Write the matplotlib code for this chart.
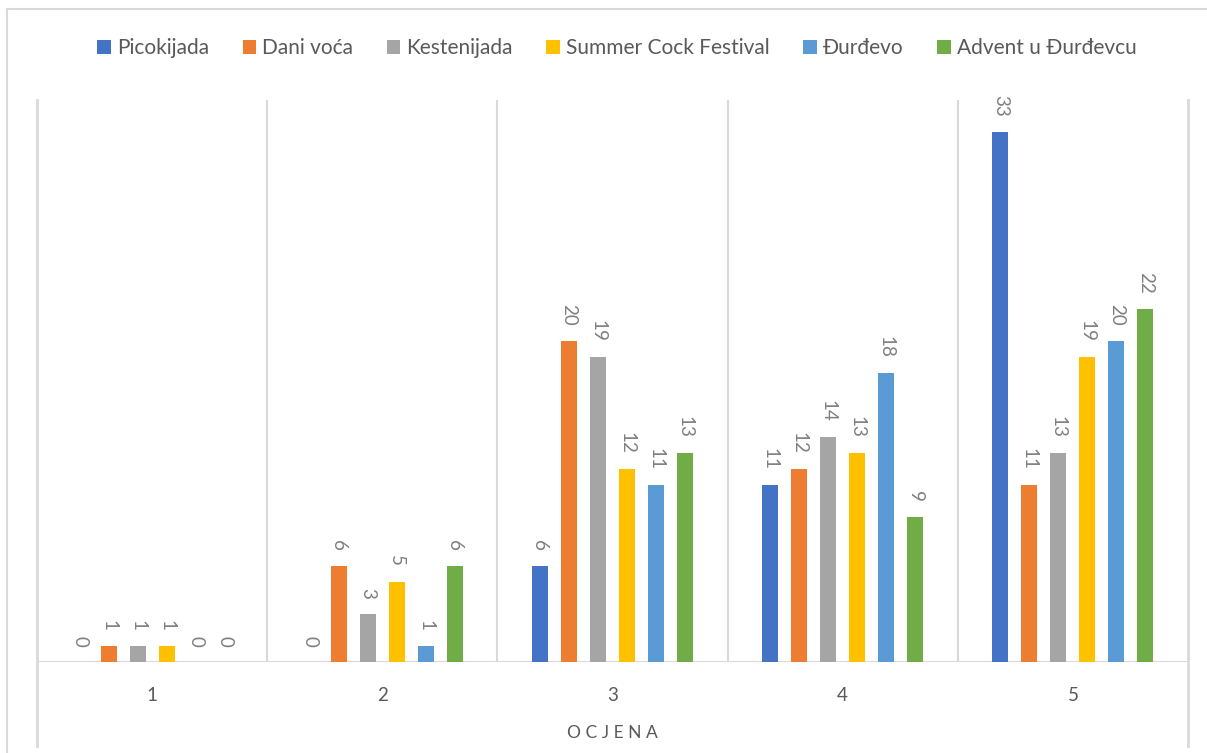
import numpy as np
import matplotlib
matplotlib.use("Agg")
from matplotlib import pyplot as plt
from matplotlib.lines import Line2D

plt.rcParams['font.family'] = ['Lato', 'DejaVu Sans']

categories = ['1', '2', '3', '4', '5']
series_names = ['Picokijada', 'Dani voća', 'Kestenijada', 'Summer Cock Festival',
                'Đurđevo', 'Advent u Đurđevcu']
picokijada = [0, 0, 6, 11, 33]
dani_voca = [1, 6, 20, 12, 11]
kestenijada = [1, 3, 19, 14, 13]
summer_cock = [1, 5, 12, 13, 19]
durdevo = [0, 1, 11, 18, 20]
advent = [0, 6, 13, 9, 22]
series_values = [picokijada, dani_voca, kestenijada, summer_cock, durdevo, advent]
colors = ['#4472C4', '#ED7D31', '#A5A5A5', '#FFC000', '#5B9BD5', '#70AD47']

W, H = 1207, 753
fig = plt.figure(figsize=(W / 100, H / 100), dpi=100)
ax = fig.add_axes([37 / W, 1 - 662 / H, (1188 - 37) / W, (662 - 100) / H])

x = np.arange(1, len(categories) + 1)
step = 0.126
width = 0.07
for i, (name, vals, c) in enumerate(zip(series_names, series_values, colors)):
    pos = x + (i - 2.5) * step
    ax.bar(pos, vals, width=width, color=c, label=name, zorder=3)
    for px, v in zip(pos, vals):
        ax.annotate(str(v), (px, v), xytext=(0, 11), textcoords='offset points',
                    ha='center', va='bottom', rotation=-90, fontsize=13.5,
                    color='#7F7F7F')

ax.set_xlim(0.5, 5.5)
ax.set_ylim(0, 35)
for s in ax.spines.values():
    s.set_visible(False)
ax.set_yticks([])
ax.set_xticks(x)
ax.set_xticklabels(categories, fontsize=13.5, color='#595959')
ax.tick_params(axis='x', length=0, pad=18)
ax.axhline(0, color='#D9D9D9', lw=1.5, zorder=2)

# category separators
for b in np.arange(1.5, 5.5, 1):
    ax.axvline(b, color='#D9D9D9', lw=1.5, zorder=1)
for b in [0.5, 5.5]:
    ax.add_line(Line2D([b, b], [-84 / 562 * 35, 35], color='#D9D9D9', lw=2,
                       clip_on=False, zorder=1))

fig.text((37 + 1188) / 2 / W, 1 - 733 / H, 'O C J E N A', ha='center', va='center',
         fontsize=12.5, color='#595959')

# chart border (left and top)
fig.add_artist(Line2D([7 / W, 7 / W], [0, 1 - 9 / H], color='#D9D9D9', lw=1.5))
fig.add_artist(Line2D([7 / W, 1], [1 - 9 / H, 1 - 9 / H], color='#D9D9D9', lw=1.5))

fig.legend(loc='center', bbox_to_anchor=(617 / W, 1 - 48 / H), ncol=6, frameon=False,
           fontsize=15, labelcolor='#595959', handlelength=0.65, handleheight=0.65,
           handletextpad=0.3, columnspacing=1.6)

fig.savefig('out.png', dpi=100, facecolor='white')
